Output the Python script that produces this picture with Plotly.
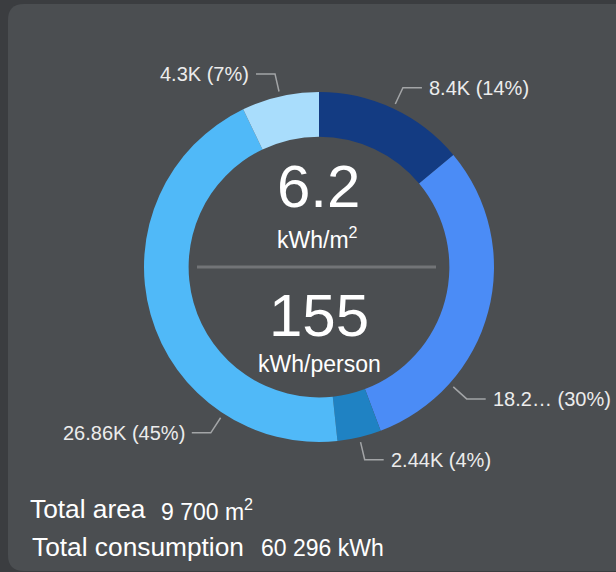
import math
import plotly.graph_objects as go

# ---- data ----
categories = ["A", "B", "C", "D", "E"]
values = [8400, 18290, 2440, 26860, 4300]
value_labels = ["8.4K", "18.2…", "2.44K", "26.86K", "4.3K"]
colors = ["#133b82", "#4b8cf6", "#1f82c3", "#50b9f8", "#a9ddfc"]

intensity_area = "6.2"
intensity_person = "155"
total_area = "9 700 m<sup>2</sup>"
total_consumption = "60 296 kWh"

# ---- layout constants (pixels) ----
W, H = 616, 572
CX, CY, R = 319, 267, 175
HOLE = 0.745
label_shift = [0, 27, 0, -41, 0]  # degrees the label leader is moved from slice middle


def px(x):
    return x / W


def py(y):
    return 1 - y / H


fig = go.Figure()
fig.add_trace(go.Pie(
    labels=categories, values=values, sort=False, direction="clockwise", rotation=0,
    hole=HOLE, marker=dict(colors=colors, line=dict(width=0)),
    textinfo="none", hoverinfo="skip", showlegend=False,
    domain=dict(x=[px(CX - R), px(CX + R)], y=[py(CY + R), py(CY - R)]),
))

shapes = []
annotations = []

# panel background with rounded corners
x0, y0, x1, y1, rr = 8, 4, 630, 571, 16
path = (f"M {px(x0)},{py(y0 + rr)} Q {px(x0)},{py(y0)} {px(x0 + rr)},{py(y0)} "
        f"L {px(x1)},{py(y0)} L {px(x1)},{py(y1)} L {px(x0 + rr)},{py(y1)} "
        f"Q {px(x0)},{py(y1)} {px(x0)},{py(y1 - rr)} Z")
shapes.append(dict(type="path", path=path, xref="paper", yref="paper",
                   fillcolor="#4b4e51", line=dict(width=0), layer="below"))

# divider inside the hole
shapes.append(dict(type="line", xref="paper", yref="paper",
                   x0=px(197), x1=px(436), y0=py(CY), y1=py(CY),
                   line=dict(color="#727477", width=3)))

total = sum(values)
cum = 0
for v, lab, sh in zip(values, value_labels, label_shift):
    mid = (cum + v / 2) / total * 360 + sh
    cum += v
    a = math.radians(mid)
    s, c = math.sin(a), math.cos(a)
    sx, sy = CX + 180 * s, CY - 180 * c
    ex, ey = CX + 198 * s, CY - 198 * c
    right = s >= 0
    hx = ex + (19 if right else -19)
    shapes.append(dict(type="path", xref="paper", yref="paper",
                       path=f"M {px(sx)},{py(sy)} L {px(ex)},{py(ey)} L {px(hx)},{py(ey)}",
                       line=dict(color="#a3a5a7", width=1.5)))
    pct = round(v / total * 100)
    annotations.append(dict(
        x=px(hx + (5 if right else -5)), y=py(ey), xref="paper", yref="paper",
        text=f"{lab} ({pct}%)", showarrow=False,
        xanchor="left" if right else "right", yanchor="middle",
        font=dict(family="Liberation Sans, Arial", size=20, color="#ececec")))

# centre texts
annotations += [
    dict(x=px(CX - 1), y=py(187), text=intensity_area, font=dict(size=60, color="white")),
    dict(x=px(CX - 2), y=py(238), text="kWh/m<sup>2</sup>", font=dict(size=23, color="white")),
    dict(x=px(CX), y=py(316), text=intensity_person, font=dict(size=60, color="white")),
    dict(x=px(CX), y=py(364), text="kWh/person", font=dict(size=23, color="white")),
]
for an in annotations[-4:]:
    an.update(xref="paper", yref="paper", showarrow=False, xanchor="center", yanchor="middle")
    an["font"]["family"] = "Liberation Sans, Arial"

# totals at bottom
for x, y, txt, size in [
    (28, 509, "Total area", 26.3),
    (159, 510, total_area, 23),
    (30, 547, "Total consumption", 26.3),
    (259, 548, total_consumption, 23),
]:
    annotations.append(dict(x=px(x), y=py(y), xref="paper", yref="paper", text=txt,
                            showarrow=False, xanchor="left", yanchor="middle",
                            font=dict(family="Liberation Sans, Arial", size=size, color="white")))

fig.update_layout(
    width=W, height=H, margin=dict(l=0, r=0, t=0, b=0),
    paper_bgcolor="#3b3d40", plot_bgcolor="#3b3d40",
    shapes=shapes, annotations=annotations, showlegend=False,
)
fig.write_html("out.html", config={"displayModeBar": False},
               post_script="document.body.style.margin='0';document.body.style.overflow='hidden';")
